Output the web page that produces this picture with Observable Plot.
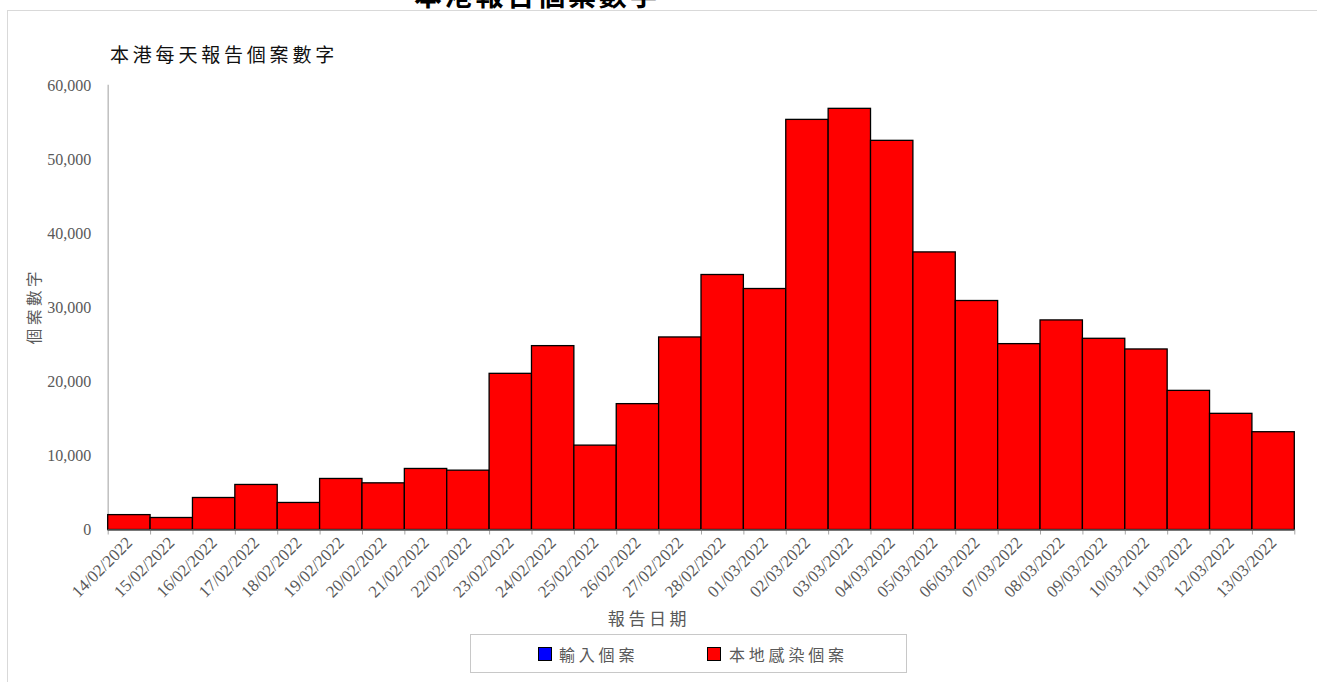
<!DOCTYPE html>
<html>
<head>
<meta charset="utf-8">
<script src="https://cdn.jsdelivr.net/npm/d3@7"></script>
<script src="https://cdn.jsdelivr.net/npm/@observablehq/plot@0.6"></script>
<style>
  html, body { margin: 0; padding: 0; background: #fff; overflow: hidden; }
  #wrap { position: relative; width: 1317px; height: 682px; overflow: hidden; }
  #frame { position: absolute; left: 7px; top: 10px; width: 1400px; height: 800px;
           border-top: 1.5px solid #d9d9d9; border-left: 1.5px solid #d9d9d9; }
  .cjk { font-family: "Noto Sans CJK TC", "Noto Sans CJK SC", sans-serif; }
  #topTitle { position: absolute; left: 414px; top: -20px; font-size: 28px; line-height: 28px;
              font-weight: bold; color: #000; letter-spacing: 2.8px; white-space: nowrap; }
  #subtitle { position: absolute; left: 110px; top: 42px; font-size: 19px; line-height: 24px;
              color: #111; letter-spacing: 3.8px; white-space: nowrap; }
  #ylabel { position: absolute; left: 33px; top: 306px; transform: translate(-50%, -50%) rotate(-90deg);
            font-size: 15.5px; color: #595959; letter-spacing: 3.6px; white-space: nowrap; }
  #xlabel { position: absolute; left: 649px; top: 617px; transform: translate(-50%, -50%);
            font-size: 17px; color: #595959; letter-spacing: 3.6px; white-space: nowrap; }
  #legend { position: absolute; left: 470px; top: 634px; width: 437px; height: 39px;
            border: 1px solid #c8c8c8; box-sizing: border-box; }
  .sw { position: absolute; width: 12px; height: 12px; border: 1px solid #000; top: 12px; }
  .lt { position: absolute; top: 8px; font-size: 16px; line-height: 22px; color: #595959;
        letter-spacing: 3.8px; white-space: nowrap; }
  svg { position: absolute; left: 0; top: 0; }
</style>
</head>
<body>
<div id="wrap">
  <div id="frame"></div>
  <div id="chart"></div>
</div>
<script>
// ---- data ----
const dates = ["14/02/2022","15/02/2022","16/02/2022","17/02/2022","18/02/2022","19/02/2022","20/02/2022",
  "21/02/2022","22/02/2022","23/02/2022","24/02/2022","25/02/2022","26/02/2022","27/02/2022","28/02/2022",
  "01/03/2022","02/03/2022","03/03/2022","04/03/2022","05/03/2022","06/03/2022","07/03/2022","08/03/2022",
  "09/03/2022","10/03/2022","11/03/2022","12/03/2022","13/03/2022"];
const localCases = [2010, 1620, 4320, 6080, 3650, 6890, 6300, 8240, 8010, 21080, 24820, 11390, 16990, 25990,
  34420, 32530, 55360, 56850, 52530, 37470, 30910, 25090, 28290, 25810, 24370, 18780, 15680, 13200];
const yTicks = [0, 10000, 20000, 30000, 40000, 50000, 60000];
const topTitleText = "本港報告個案數字";
const subtitleText = "本港每天報告個案數字";
const yLabelText = "個案數字";
const xLabelText = "報告日期";
const seriesNames = ["輸入個案", "本地感染個案"];
const seriesColors = ["#0000ff", "#ff0000"];

const table = dates.map((d, i) => ({ i, date: d, local: localCases[i] }));
const boundaries = d3.range(dates.length + 1);
const centers = dates.map((d, i) => i + 0.5);

const chart = Plot.plot({
  width: 1317,
  height: 682,
  marginLeft: 107.7,
  marginRight: 22.7,
  marginTop: 85,
  marginBottom: 152.5,
  style: { fontFamily: "'Liberation Serif', 'Times New Roman', serif", color: "#595959", background: "transparent" },
  x: { domain: [0, dates.length] },
  y: { domain: [0, 60000] },
  marks: [
    Plot.frame({ anchor: "left", stroke: "#bfbfbf", strokeWidth: 1.5 }),
    Plot.rectY(table, { x1: "i", x2: d => d.i + 1, y: "local", fill: seriesColors[1], stroke: "#000", strokeWidth: 1.3 }),
    Plot.axisY({ ticks: yTicks, tickSize: 0, tickPadding: 17, tickFormat: d3.format(","), fontSize: 16, label: null }),
    Plot.axisX({ ticks: boundaries, tickFormat: () => "", tickSize: 5, stroke: "#a6a6a6", label: null }),
    Plot.axisX({ ticks: centers, tickFormat: v => dates[Math.floor(v)], tickSize: 0, tickPadding: 10,
                 tickRotate: -45, fontSize: 17, label: null }),
    Plot.ruleY([0], { stroke: "#595959", strokeWidth: 1.5 })
  ]
});
document.getElementById("chart").appendChild(chart);

// ---- texts and legend (HTML) ----
const wrap = document.getElementById("wrap");
function addDiv(id, text) {
  const el = document.createElement("div");
  el.id = id; el.className = "cjk"; el.textContent = text;
  wrap.appendChild(el);
  return el;
}
addDiv("topTitle", topTitleText);
addDiv("subtitle", subtitleText);
addDiv("ylabel", yLabelText);
addDiv("xlabel", xLabelText);
const legend = document.createElement("div");
legend.id = "legend";
wrap.appendChild(legend);
const swX = [67, 236], txX = [88, 258];
seriesNames.forEach((name, k) => {
  const sw = document.createElement("div");
  sw.className = "sw"; sw.style.left = swX[k] + "px"; sw.style.background = seriesColors[k];
  legend.appendChild(sw);
  const t = document.createElement("div");
  t.className = "lt cjk"; t.style.left = txX[k] + "px"; t.textContent = name;
  legend.appendChild(t);
});
</script>
</body>
</html>
